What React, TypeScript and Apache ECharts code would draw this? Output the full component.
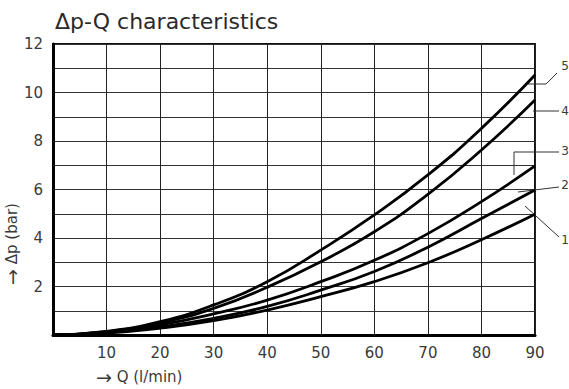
import React, { useEffect, useRef } from "react";
import * as echarts from "echarts";

const flowQ = [0, 10, 20, 30, 40, 50, 60, 70, 80, 90];
const curve1 = [0, 0.08, 0.28, 0.59, 1.03, 1.58, 2.2, 2.98, 3.93, 4.98];
const curve2 = [0, 0.1, 0.34, 0.69, 1.18, 1.85, 2.62, 3.62, 4.8, 5.98];
const curve3 = [0, 0.12, 0.42, 0.87, 1.44, 2.2, 3.08, 4.18, 5.5, 6.97];
const curve4 = [0, 0.14, 0.5, 1.1, 1.97, 3.02, 4.26, 5.8, 7.63, 9.69];
const curve5 = [0, 0.15, 0.55, 1.24, 2.2, 3.5, 4.95, 6.6, 8.52, 10.72];
const curveNames = ["1", "2", "3", "4", "5"];
const yTickLabels = [2, 4, 6, 8, 10, 12];
const xTickLabels = [10, 20, 30, 40, 50, 60, 70, 80, 90];

const FONT = "DejaVu Sans, Liberation Sans, sans-serif";
const TXT = "#3a3a3a";

export default function App() {
  const ref = useRef<HTMLDivElement>(null);
  useEffect(() => {
    if (!ref.current) return;
    const chart = echarts.init(ref.current, undefined, { renderer: "svg" });
    const curves = [curve1, curve2, curve3, curve4, curve5];
    const series = curves.map((c, i) => ({
      name: curveNames[i],
      type: "line",
      data: flowQ.map((q, j) => [q, c[j]]),
      smooth: true,
      showSymbol: false,
      symbol: "none",
      lineStyle: { color: "#000", width: 2.8 },
      z: 5,
    }));
    const leader = { stroke: "#333", lineWidth: 1, fill: "none" };
    const arrowRich = {
      a: { fontFamily: FONT, fontSize: 19, fill: TXT, color: TXT },
    };
    chart.setOption({
      animation: false,
      backgroundColor: "#fff",
      title: {
        text: "Δp-Q characteristics",
        left: 55,
        top: 10,
        padding: 0,
        textStyle: { fontSize: 22, fontFamily: FONT, color: "#2a2a2a", fontWeight: "normal" },
      },
      grid: {
        left: 53,
        top: 44,
        width: 482,
        height: 291,
        show: true,
        borderColor: "#111",
        borderWidth: 2,
      },
      xAxis: {
        type: "value",
        min: 0,
        max: 90,
        interval: 10,
        axisLine: { show: true, lineStyle: { color: "#000", width: 3 } },
        axisTick: { show: false },
        axisLabel: {
          color: TXT,
          fontSize: 15,
          fontFamily: FONT,
          margin: 10,
          formatter: (v: number) => (xTickLabels.includes(v) ? String(v) : ""),
        },
        splitLine: { show: true, lineStyle: { color: "#222", width: 1 } },
      },
      yAxis: {
        type: "value",
        min: 0,
        max: 12,
        interval: 1,
        axisLine: { show: true, lineStyle: { color: "#000", width: 3 } },
        axisTick: { show: false },
        axisLabel: {
          color: TXT,
          fontSize: 15,
          fontFamily: FONT,
          margin: 10,
          formatter: (v: number) => (yTickLabels.includes(v) ? String(v) : ""),
        },
        splitLine: { show: true, lineStyle: { color: "#333", width: 1 } },
      },
      series,
      graphic: [
        {
          type: "text",
          x: 12,
          y: 244,
          rotation: Math.PI / 2,
          style: {
            text: "{a|→} Δp (bar)",
            rich: arrowRich,
            fontSize: 15,
            fontFamily: FONT,
            fill: TXT,
            align: "center",
            verticalAlign: "middle",
          },
        },
        {
          type: "text",
          x: 96,
          y: 377,
          style: {
            text: "{a|→} Q (l/min)",
            rich: arrowRich,
            fontSize: 15,
            fontFamily: FONT,
            fill: TXT,
            verticalAlign: "middle",
          },
        },
        { type: "polyline", shape: { points: [[528, 84], [546, 84], [557, 73]] }, style: leader },
        { type: "polyline", shape: { points: [[533, 111], [559, 111]] }, style: leader },
        { type: "polyline", shape: { points: [[514, 175], [514, 152], [559, 152]] }, style: leader },
        { type: "polyline", shape: { points: [[518, 192], [559, 187]] }, style: leader },
        { type: "polyline", shape: { points: [[525, 206], [559, 237]] }, style: leader },
        ...[
          ["5", 66],
          ["4", 111],
          ["3", 151],
          ["2", 185],
          ["1", 240],
        ].map(([t, y]) => ({
          type: "text",
          x: 565,
          y: y as number,
          style: {
            text: t as string,
            fontSize: 12,
            fontFamily: FONT,
            fill: TXT,
            align: "center",
            verticalAlign: "middle",
          },
        })),
      ],
    });
    return () => chart.dispose();
  }, []);
  return (
    <div
      ref={ref}
      style={{ position: "fixed", left: 0, top: 0, width: 569, height: 389 }}
    />
  );
}
